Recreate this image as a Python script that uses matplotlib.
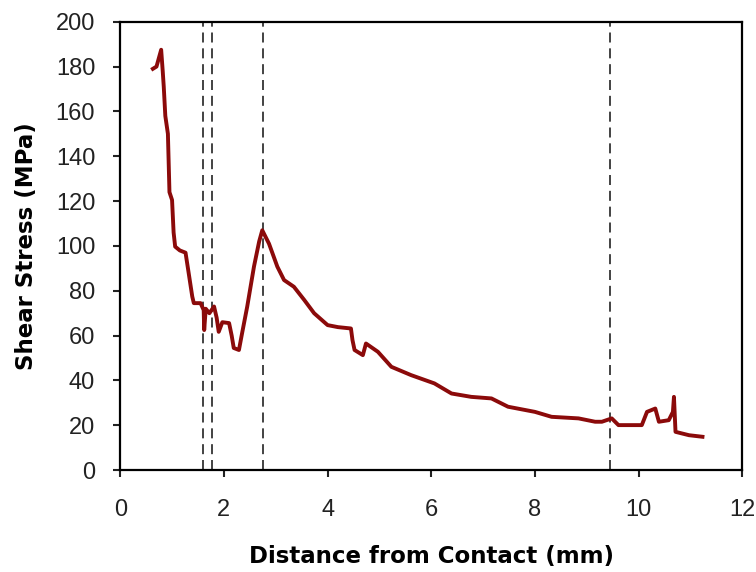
import matplotlib
matplotlib.use("Agg")
import matplotlib.pyplot as plt

plt.rcParams['font.family'] = ['Liberation Sans', 'DejaVu Sans']

# shear stress curve
distance = [0.63, 0.70, 0.79, 0.82, 0.84, 0.87, 0.92, 0.95, 1.00, 1.03, 1.06, 1.15, 1.26,
            1.32, 1.39, 1.42, 1.55, 1.61, 1.62, 1.65, 1.72, 1.81, 1.86, 1.90, 1.97, 2.10,
            2.15, 2.19, 2.29, 2.35, 2.45, 2.58, 2.68, 2.74, 2.87, 3.03, 3.16, 3.35, 3.55,
            3.74, 4.00, 4.20, 4.45, 4.48, 4.52, 4.68, 4.74, 4.97, 5.23, 5.61, 6.06, 6.39,
            6.77, 7.16, 7.48, 8.00, 8.32, 8.84, 9.16, 9.29, 9.48, 9.61, 10.06, 10.16,
            10.32, 10.39, 10.58, 10.66, 10.68, 10.71, 10.97, 11.23]
stress = [179, 180, 187.5, 178, 171, 158, 150, 124, 120.5, 106, 99.7, 98, 97,
          88, 77.4, 74.5, 74.5, 71.4, 62.5, 72, 70, 73, 68, 61.7, 66, 65.6,
          60, 54.5, 53.6, 61, 73, 90.8, 102, 107, 101, 90.8, 84.8, 81.8, 75.9,
          70, 64.7, 63.8, 63.2, 58, 53.6, 51.3, 56.5, 52.8, 46.1, 42.4, 38.7, 34.2,
          32.7, 32, 28.3, 26, 23.8, 23.1, 21.6, 21.6, 23.1, 20.1, 20.1, 26,
          27.5, 21.6, 22.3, 26, 32.7, 17.1, 15.6, 14.9]

# dashed marker lines
markers = [1.59, 1.78, 2.75, 9.44]

fig = plt.figure(figsize=(7.56, 5.72), dpi=100)
ax = fig.add_axes([0.159, 0.178, 0.823, 0.784])

for m in markers:
    ax.axvline(m, color='#222222', linestyle=(0, (6, 3.5)), linewidth=1.2, zorder=1)
ax.plot(distance, stress, color='#8b0a0a', linewidth=2.8, zorder=2)

ax.set_xlim(0, 12)
ax.set_ylim(0, 200)
ax.set_xticks(range(0, 13, 2))
ax.set_yticks(range(0, 201, 20))
ax.tick_params(direction='out', length=5, width=1.5, labelsize=17, colors='#222222')
ax.tick_params(axis='y', pad=13)
ax.tick_params(axis='x', pad=16)
for s in ax.spines.values():
    s.set_linewidth(1.6)

lab = dict(fontsize=16.5, fontweight='bold', family='DejaVu Sans')
ax.set_xlabel('Distance from Contact (mm)', labelpad=17, **lab)
ax.set_ylabel('Shear Stress (MPa)', labelpad=13, **lab)

fig.savefig('out.png', dpi=100)
